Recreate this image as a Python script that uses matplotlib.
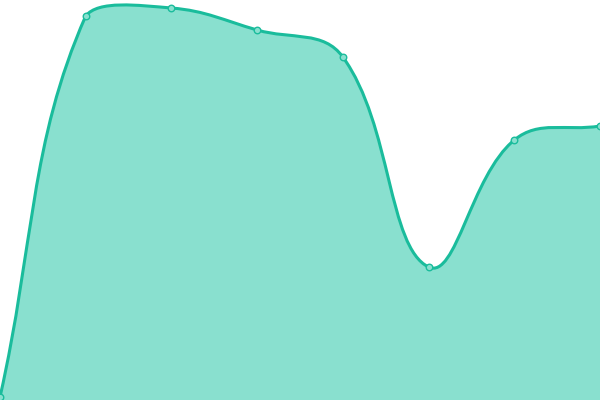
import numpy as np
import matplotlib
matplotlib.use("Agg")
import matplotlib.pyplot as plt
from matplotlib.path import Path
from matplotlib.patches import PathPatch

# data (y axis runs 0..400)
labels = ["A", "B", "C", "D", "E", "F", "G", "H"]
values = [3, 384, 392, 370, 343, 133, 260, 274]

LINE = "#1abc9c"
FILL = "#89e0cf"
TENSION = 0.4

fig = plt.figure(figsize=(6, 4), dpi=100)
ax = fig.add_axes([0, 0, 1, 1])
ax.set_xlim(0, len(values) - 1)
ax.set_ylim(0, 400)
ax.axis("off")

# work in display coords so the spline behaves like the original
xs = np.arange(len(values))
pts = ax.transData.transform(np.column_stack([xs, values]))
(x0, y0), (x1, y1) = ax.transData.transform([(0, 0), (len(values) - 1, 400)])


def control_points(p):
    n = len(p)
    cps = []
    for i in range(n):
        prev = p[max(i - 1, 0)]
        cur = p[i]
        nxt = p[min(i + 1, n - 1)]
        d01 = np.hypot(*(cur - prev))
        d12 = np.hypot(*(nxt - cur))
        tot = d01 + d12
        s01 = d01 / tot if tot else 0
        s12 = d12 / tot if tot else 0
        c1 = cur - TENSION * s01 * (nxt - prev)
        c2 = cur + TENSION * s12 * (nxt - prev)
        # keep control points inside the plot area
        c1 = np.array([np.clip(c1[0], x0, x1), np.clip(c1[1], y0, y1)])
        c2 = np.array([np.clip(c2[0], x0, x1), np.clip(c2[1], y0, y1)])
        cps.append((c1, c2))
    return cps


cps = control_points(pts)
verts = [pts[0]]
codes = [Path.MOVETO]
for i in range(1, len(pts)):
    verts += [cps[i - 1][1], cps[i][0], pts[i]]
    codes += [Path.CURVE4] * 3

bottom = ax.transData.transform([(xs[-1], 0), (xs[0], 0)])
fill_verts = verts + [bottom[0], bottom[1], pts[0]]
fill_codes = codes + [Path.LINETO, Path.LINETO, Path.CLOSEPOLY]

ax.add_patch(PathPatch(Path(fill_verts, fill_codes), facecolor=FILL,
                       edgecolor="none", transform=None, clip_on=False))
ax.add_patch(PathPatch(Path(verts, codes), facecolor="none", edgecolor=LINE,
                       linewidth=2.2, transform=None, clip_on=False))
ax.scatter(xs, values, s=22, facecolor=FILL, edgecolor=LINE,
           linewidth=1, zorder=5, clip_on=False)

fig.savefig("out.png", dpi=100)
